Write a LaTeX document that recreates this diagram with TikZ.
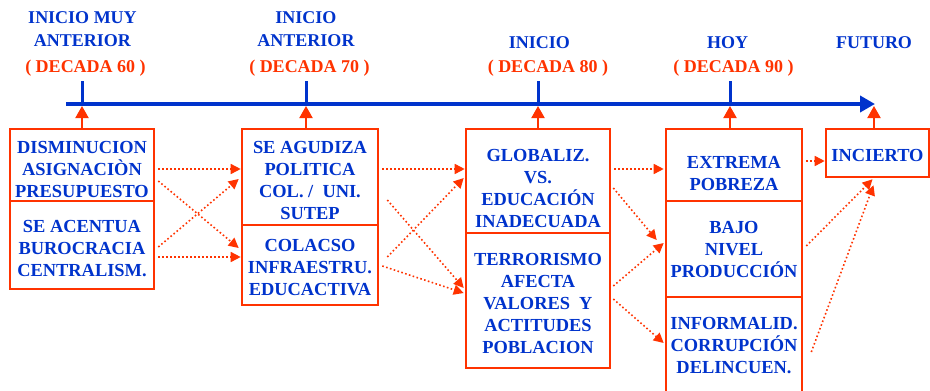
\documentclass[tikz,border=0pt]{standalone}
\usepackage{fontspec}
\setmainfont{Liberation Serif}
\usetikzlibrary{arrows.meta}
\definecolor{tlblue}{RGB}{0,51,204}
\definecolor{tlred}{RGB}{255,51,0}
\newcommand{\lift}[1]{\rule{0pt}{#1}}

\begin{document}
\begin{tikzpicture}[x=1pt,y=-1pt,
    txt/.style={font=\fontsize{18.4}{22}\selectfont\bfseries, text=tlblue, align=center, inner sep=0pt},
    hdr/.style={txt, font=\fontsize{18}{23}\selectfont\bfseries},
    dec/.style={hdr, text=tlred},
    cell/.style={txt, draw=tlred, line width=2.6pt, minimum width=#1},
    axis/.style={draw=tlblue, line width=4pt, -{Triangle[length=15pt,width=16pt]}},
    tick/.style={draw=tlblue, line width=3pt},
    rise/.style={draw=tlred, line width=2pt, -{Triangle[length=12pt,width=13pt]}},
    flow/.style={draw=tlred, line width=1.6pt, dash pattern=on 1.6pt off 2.4pt, -{Triangle[length=10pt,width=10pt]}}]
    \useasboundingbox (0,0) rectangle (930,391);

    % Time line
    \coordinate (tl0) at (66,104);
    \coordinate (tlend) at (875,104);
    \coordinate (k60) at (82,104);
    \coordinate (k70) at (306,104);
    \coordinate (k80) at (538,104);
    \coordinate (k90) at (730,104);
    \coordinate (kfu) at (874,104);
    \draw [axis] (tl0) -- (tlend);
    \foreach \k in {k60,k70,k80,k90}
        \draw [tick] (\k) -- ++(0,-23);

    % Text Node
    \node [hdr] (h60) at (82.5,29.5) {INICIO MUY\\ANTERIOR};
    \node [dec] (d60) at (85.5,68) {( DECADA 60 )};
    \node [hdr] (h70) at (306,29.5) {INICIO\\ANTERIOR};
    \node [dec] (d70) at (309.5,68) {( DECADA 70 )};
    \node [hdr] (h80) at (539.5,43) {INICIO};
    \node [dec] (d80) at (548,68) {( DECADA 80 )};
    \node [hdr] (h90) at (727.5,43) {HOY};
    \node [dec] (d90) at (733.5,68) {( DECADA 90 )};
    \node [hdr] (hfu) at (874,43) {FUTURO};

    % Boxes
    \node [cell=144, minimum height=72] (dis) at (82,165) {\lift{20.2pt}DISMINUCION\\ASIGNACIÒN\\PRESUPUESTO};
    \node [cell=144, minimum height=88] (bur) at (82,245) {\lift{20.2pt}SE ACENTUA\\BUROCRACIA\\CENTRALISM.};
    \node [cell=136, minimum height=96] (agu) at (310,177) {\lift{18.2pt}SE AGUDIZA\\POLITICA\\COL. /~~UNI.\\SUTEP};
    \node [cell=136, minimum height=80] (col) at (310,265) {\lift{18.2pt}COLACSO\\INFRAESTRU.\\EDUCACTIVA};
    \node [cell=144, minimum height=104] (glo) at (538,181) {\lift{26.2pt}GLOBALIZ.\\VS.\\EDUCACIÓN\\INADECUADA};
    \node [cell=144, minimum height=135] (ter) at (538,300.5) {\lift{17.2pt}TERRORISMO\\AFECTA\\VALORES~~Y\\ACTITUDES\\POBLACION};
    \node [cell=136, minimum height=72] (ext) at (734,165) {\lift{28.2pt}EXTREMA\\POBREZA};
    \node [cell=136, minimum height=96] (baj) at (734,249) {BAJO\\NIVEL\\PRODUCCIÓN};
    \node [cell=136, minimum height=98] (inf) at (734,346) {INFORMALID.\\CORRUPCIÓN\\DELINCUEN.};
    \node [cell=103, minimum height=48] (inc) at (877.5,153) {\lift{16.2pt}INCIERTO};

    % Arrows up to the time line
    \foreach \k/\b in {k60/dis,k70/agu,k80/glo,k90/ext,kfu/inc}
        \draw [rise] (\k |- \b.north) -- ([shift={(0,2)}]\k);

    % Dotted arrows
    \draw [flow] ([shift={(3,4)}]dis.east) -- ([shift={(0,-8)}]agu.west);
    \draw [flow] ([shift={(3,16)}]dis.east) -- ([shift={(-2,-17)}]col.west);
    \draw [flow] ([shift={(3,2)}]bur.east) -- ([shift={(-2,2)}]agu.west);
    \draw [flow] ([shift={(3,12)}]bur.east) -- ([shift={(0,-8)}]col.west);
    \draw [flow] ([shift={(3,-8)}]agu.east) -- ([shift={(0,-12)}]glo.west);
    \draw [flow] ([shift={(8,23)}]agu.east) -- ([shift={(-1,-12.5)}]ter.west);
    \draw [flow] ([shift={(8,-8)}]col.east) -- ([shift={(-1,-3)}]glo.west);
    \draw [flow] ([shift={(3,1)}]col.east) -- ([shift={(-1,-7.5)}]ter.west);
    \draw [flow] ([shift={(3,-12)}]glo.east) -- ([shift={(-1,4)}]ext.west);
    \draw [flow] ([shift={(2,7)}]glo.east) -- ([shift={(-8,-9)}]baj.west);
    \draw [flow] ([shift={(2,-14.5)}]ter.east) -- ([shift={(-1,-6)}]baj.west);
    \draw [flow] ([shift={(2,-1.5)}]ter.east) -- ([shift={(-1,-3)}]inf.west);
    \draw [flow] ([shift={(3,-4)}]ext.east) -- ([shift={(0,8)}]inc.west);
    \draw [flow] ([shift={(3,-3)}]baj.east) -- ([shift={(-5,1)}]inc.south);
    \draw [flow] ([shift={(8,6)}]inf.east) -- ([shift={(-4,7)}]inc.south);

\end{tikzpicture}
\end{document}
